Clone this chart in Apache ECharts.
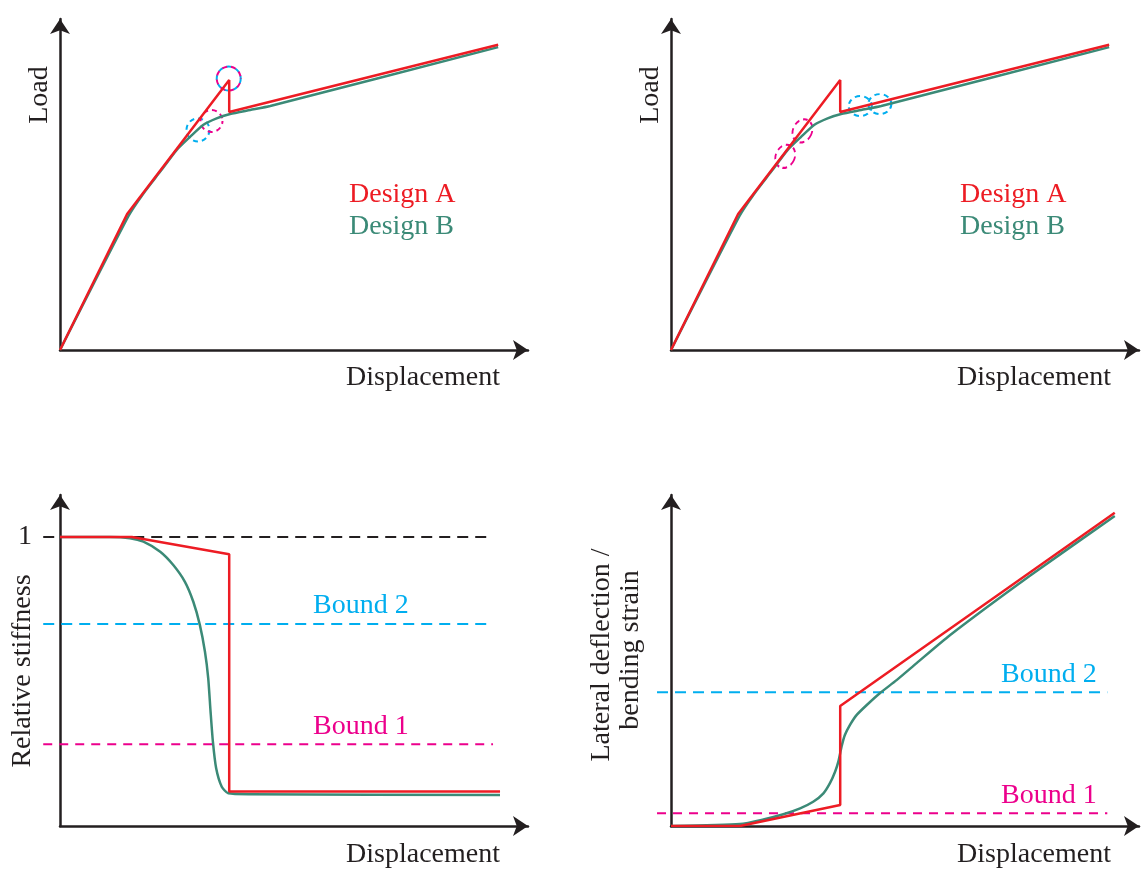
<!DOCTYPE html>
<html><head><meta charset="utf-8">
<script src="https://cdn.jsdelivr.net/npm/echarts@6/dist/echarts.min.js"></script>
<style>html,body{margin:0;padding:0;background:#fff}#c{width:1142px;height:871px}</style>
</head><body><div id="c"></div>
<script>
// ---- Top panels: Load vs Displacement (same curves in both panels) ----
const loadDispA = [0, 14.4, 36.3, 36.3, 94.0];
const loadA     = [0, 41.1, 81.6, 71.9, 92.2];
const loadDispB = [0, 14.7, 17.9, 21.5, 25.0, 27.9, 30.7, 33.6, 36.5, 40.8, 45.1, 94.0];
const loadB     = [0, 40.5, 47.3, 53.9, 60.4, 64.4, 68.0, 70.0, 71.3, 72.5, 73.7, 91.5];
// dashed annotation circles (data coords)
const circlesTLmix = [[36.2, 82.0]];
const circlesTLcyan = [[29.6, 66.5]];
const circlesTLmag = [[32.5, 69.2]];
const circlesTRmag = [[28.2, 66.2], [24.5, 58.5]];
const circlesTRcyan = [[40.6, 73.7], [44.8, 74.3]];

// ---- Bottom-left: Relative stiffness ----
const stiffDispA = [0, 15.4, 36.3, 36.3, 94.4];
const stiffA     = [1, 1, 0.940, 0.119, 0.119];
const stiffDispB = [0, 10.7, 15.0, 17.9, 21.5, 24.3, 26.8, 28.6, 30.0, 31.1, 31.8, 32.3, 32.8, 33.5, 34.7, 36.1, 40.8, 94.4];
const stiffB     = [1, 1.0, 0.996, 0.984, 0.949, 0.903, 0.845, 0.776, 0.696, 0.603, 0.511, 0.396, 0.292, 0.200, 0.136, 0.113, 0.110, 0.107];
const stiffRef = 1, stiffBound2 = 0.699, stiffBound1 = 0.283;
const stiffLineX = [-3.6, 92.9];

// ---- Bottom-right: Lateral deflection / bending strain ----
const deflDispA = [0, 14.8, 36.3, 36.3, 95.2];
const deflA     = [0, 0, 6.4, 36.7, 95.8];
const deflDispB = [0, 14.8, 19.8, 24.1, 27.7, 30.5, 32.7, 34.1, 35.2, 35.9, 36.6, 37.3, 38.4, 39.8, 42.0, 44.8, 48.4, 52.7, 59.9, 77.0, 95.2];
const deflB     = [0, 0.6, 2.0, 3.6, 5.4, 7.4, 10.0, 13.1, 16.6, 19.7, 24.3, 27.8, 30.9, 33.9, 37.0, 40.6, 44.6, 49.8, 58.4, 76.5, 94.8];
const deflBound2 = 40.9, deflBound1 = 3.9;
const deflLineX = [-3.0, 93.6];

const RED = '#ED1C24', GREEN = '#3B8A77', CYAN = '#00AEEF', MAG = '#EC008C', INK = '#231F20';
const FONT = 'Liberation Serif';
const PXU = 468 / 100.4; // px per x unit

const zip = (xs, ys) => xs.map((x, i) => [x, ys[i]]);

function axisX(gi, min, max, show) {
  return { type: 'value', gridIndex: gi, min: min, max: max,
    axisLine: { show: show, onZero: false, symbol: ['none', 'arrow'], symbolSize: [15, 15],
      lineStyle: { color: INK, width: 2.5 } },
    axisTick: { show: false }, axisLabel: { show: false }, splitLine: { show: false } };
}
function axisY(gi, max, show, extra) {
  return Object.assign({ type: 'value', gridIndex: gi, min: 0, max: max,
    axisLine: { show: show, onZero: false, symbol: ['none', 'arrow'], symbolSize: [15, 15],
      lineStyle: { color: INK, width: 2.5 } },
    axisTick: { show: false }, axisLabel: { show: false }, splitLine: { show: false } }, extra || {});
}
function curve(gi, data, color, smooth) {
  return { type: 'line', xAxisIndex: gi, yAxisIndex: gi, data: data, showSymbol: false,
    symbol: 'none', smooth: smooth || false,
    lineStyle: { color: color, width: 2.5 }, z: 5, silent: true };
}
function dashLine(gi, xr, y, color, dash) {
  return { type: 'line', xAxisIndex: gi, yAxisIndex: gi, data: [[xr[0], y], [xr[1], y]],
    showSymbol: false, symbol: 'none',
    lineStyle: { color: color, width: 2, type: dash }, z: 3, silent: true };
}
function circ(c, color, size, offset, rot) {
  return { coord: c, symbol: 'circle', symbolSize: size, symbolRotate: rot || 0,
    itemStyle: { color: 'transparent', borderColor: color, borderWidth: 2,
      borderType: [5, 4], borderDashOffset: offset || 0 },
    label: { show: false } };
}
function marks(gi, items) {
  return { type: 'scatter', xAxisIndex: gi, yAxisIndex: gi, data: [], silent: true,
    markPoint: { silent: true, animation: false, data: items }, z: 6 };
}
function txt(x, y, text, color, align, rot) {
  return { type: 'text', x: x, y: y, rotation: rot || 0, silent: true,
    style: { text: text, fill: color, font: '28px "' + FONT + '"',
      textAlign: align || 'left', textVerticalAlign: 'middle' } };
}

const option = {
  animation: false,
  backgroundColor: '#fff',
  grid: [
    { left: 60, top: 19, width: 468, height: 331 },
    { left: 671, top: 19, width: 468, height: 331 },
    { left: 60, top: 495, width: 468, height: 331 },
    { left: 671, top: 495, width: 468, height: 331 },
    // overlay grids (same scales) so the reference lines can start left of the y-axis
    { left: 60 + stiffLineX[0] * PXU, top: 495, width: 468 - stiffLineX[0] * PXU, height: 331 },
    { left: 671 + deflLineX[0] * PXU, top: 495, width: 468 - deflLineX[0] * PXU, height: 331 }
  ],
  xAxis: [axisX(0, 0, 100.4, true), axisX(1, 0, 100.4, true), axisX(2, 0, 100.4, true), axisX(3, 0, 100.4, true),
          axisX(4, stiffLineX[0], 100.4, false), axisX(5, deflLineX[0], 100.4, false)],
  yAxis: [
    axisY(0, 100, true), axisY(1, 100, true),
    axisY(2, 1.1453, true, { interval: 1, axisLabel: { show: true, margin: 28, color: INK,
      fontFamily: FONT, fontSize: 28, formatter: v => (v === 1 ? '1' : '') } }),
    axisY(3, 101.2, true),
    axisY(4, 1.1453, false), axisY(5, 101.2, false)
  ],
  series: [
    // bottom reference lines (overlay grids)
    dashLine(4, stiffLineX, stiffRef, INK, [11, 7]),
    dashLine(4, stiffLineX, stiffBound2, CYAN, [11, 7]),
    dashLine(4, stiffLineX, stiffBound1, MAG, [9, 7]),
    dashLine(5, deflLineX, deflBound2, CYAN, [11, 7]),
    dashLine(5, deflLineX, deflBound1, MAG, [9, 7]),
    // top-left
    curve(0, zip(loadDispB, loadB), GREEN, 0.2),
    curve(0, zip(loadDispA, loadA), RED),
    marks(0, [
      ...circlesTLmix.map(c => circ(c, CYAN, 24, 0)),
      ...circlesTLmix.map(c => circ(c, MAG, 24, 4.5)),
      ...circlesTLcyan.map(c => circ(c, CYAN, 23, 0)),
      ...circlesTLmag.map(c => circ(c, MAG, 22, 2))
    ]),
    // top-right
    curve(1, zip(loadDispB, loadB), GREEN, 0.2),
    curve(1, zip(loadDispA, loadA), RED),
    marks(1, [
      ...circlesTRmag.map(c => circ(c, MAG, [19, 24], 0, -25)),
      ...circlesTRcyan.map(c => circ(c, CYAN, [23, 20], 0, 0))
    ]),
    // bottom-left
    curve(2, zip(stiffDispB, stiffB), GREEN, 0.2),
    curve(2, zip(stiffDispA, stiffA), RED),
    // bottom-right
    curve(3, zip(deflDispB, deflB), GREEN, 0.2),
    curve(3, zip(deflDispA, deflA), RED)
  ],
  graphic: [
    txt(40, 95, 'Load', INK, 'center', Math.PI / 2),
    txt(651, 95, 'Load', INK, 'center', Math.PI / 2),
    txt(500, 378, 'Displacement', INK, 'right'),
    txt(1111, 378, 'Displacement', INK, 'right'),
    txt(500, 855, 'Displacement', INK, 'right'),
    txt(1111, 855, 'Displacement', INK, 'right'),
    txt(349, 195, 'Design A', RED, 'left'),
    txt(349, 227, 'Design B', GREEN, 'left'),
    txt(960, 195, 'Design A', RED, 'left'),
    txt(960, 227, 'Design B', GREEN, 'left'),
    txt(313, 606, 'Bound 2', CYAN, 'left'),
    txt(313, 727, 'Bound 1', MAG, 'left'),
    txt(1001, 675, 'Bound 2', CYAN, 'left'),
    txt(1001, 796, 'Bound 1', MAG, 'left'),
    txt(23, 671, 'Relative stiffness', INK, 'center', Math.PI / 2),
    txt(602, 655, 'Lateral deflection /', INK, 'center', Math.PI / 2),
    txt(631, 650, 'bending strain', INK, 'center', Math.PI / 2)
  ]
};
const chart = echarts.init(document.getElementById('c'), null, { renderer: 'canvas' });
chart.setOption(option);
</script></body></html>
